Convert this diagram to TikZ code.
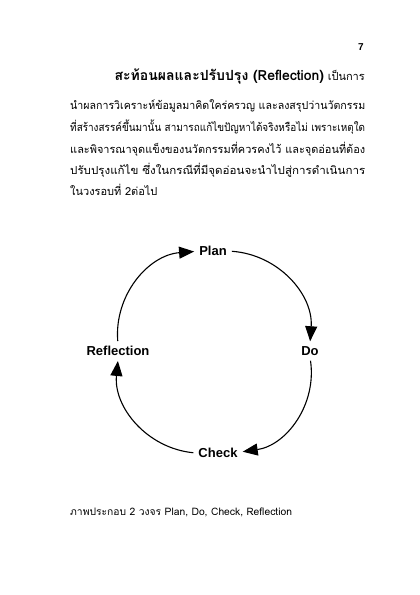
\documentclass[tikz,border=0pt]{standalone}
\usepackage{fontspec}
\setmainfont{Liberation Sans}
\newfontfamily\thaifont[Script=Thai]{Loma}
\usetikzlibrary{arrows.meta}

\newcommand{\fullline}[1]{\resizebox{295pt}{\height}{#1}}

\begin{document}
\begin{tikzpicture}[x=1pt, y=1pt,
        stage/.style={font=\fontsize{13}{15}\selectfont\bfseries, inner sep=5pt},
        cycle/.style={-{Triangle[length=15pt,width=12pt]}, line width=1.1pt},
        body/.style={anchor=base west, inner sep=0pt, font=\thaifont\fontsize{11}{13}\selectfont}
    ]
        \useasboundingbox (0,0) rectangle (420,595);

        % page number and text
        \node[font=\bfseries\fontsize{10}{12}\selectfont] (pageno) at (361,548) {7};
        \node[body, anchor=base east] (head) at (365,514) {{\bfseries\fontsize{14}{16}\selectfont สะท้อนผลและปรับปรุง (Reflection)} เป็นการ};
        \node[body] (line1) at (70,485) {\fullline{นำผลการวิเคราะห์ข้อมูลมาคิดใคร่ครวญ และลงสรุปว่านวัตกรรม}};
        \node[body] (line2) at (70,463) {\fullline{ที่สร้างสรรค์ขึ้นมานั้น สามารถแก้ไขปัญหาได้จริงหรือไม่ เพราะเหตุใด}};
        \node[body] (line3) at (70,441) {\fullline{และพิจารณาจุดแข็งของนวัตกรรมที่ควรคงไว้ และจุดอ่อนที่ต้อง}};
        \node[body] (line4) at (70,420) {\fullline{ปรับปรุงแก้ไข ซึ่งในกรณีที่มีจุดอ่อนจะนำไปสู่การดำเนินการ}};
        \node[body] (line5) at (70,399) {ในวงรอบที่ 2ต่อไป};

        % cycle
        \node[stage] (plan) at (213,344) {Plan};
        \node[stage] (do) at (310,244) {Do};
        \node[stage] (check) at (218,142) {Check};
        \node[stage] (refl) at (118,244) {Reflection};

        \draw[cycle] (plan) to[bend left=45] (do);
        \draw[cycle] (do) to[bend left=45] (check);
        \draw[cycle] (check) to[bend left=45] (refl);
        \draw[cycle] (refl) to[bend left=45] (plan);

        \node[body, font=\thaifont\fontsize{10.3}{12}\selectfont] (caption) at (70,79) {ภาพประกอบ 2 วงจร Plan, Do, Check, Reflection};
    \end{tikzpicture}
\end{document}
